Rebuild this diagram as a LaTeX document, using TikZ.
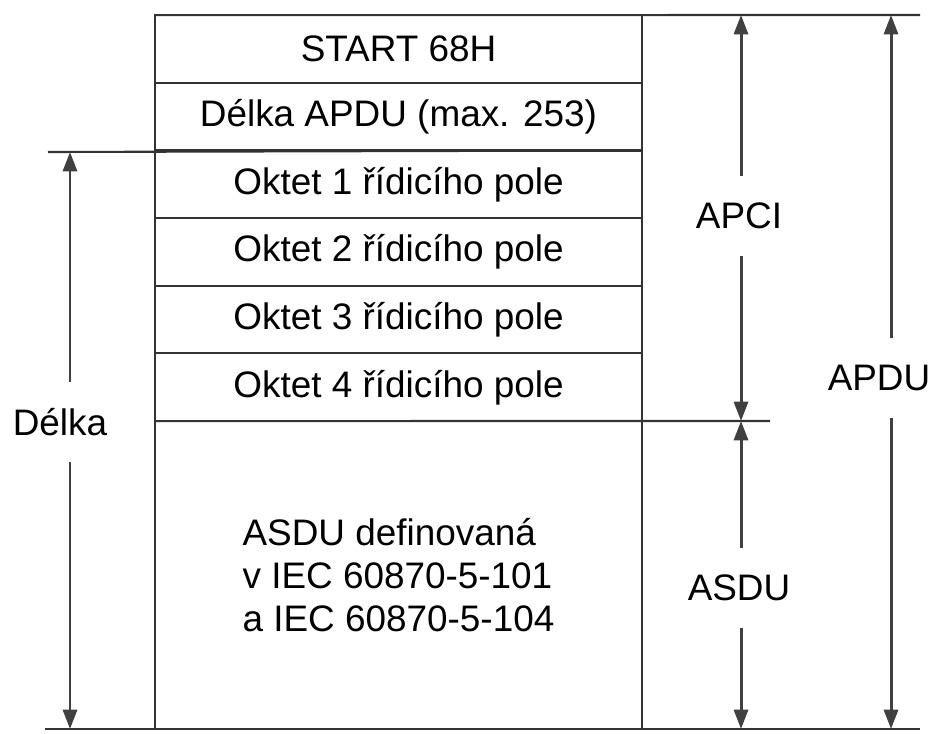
\documentclass[tikz,border=0pt]{standalone}
\usepackage{fontspec}
\setmainfont{Liberation Sans}
\usetikzlibrary{arrows.meta,positioning}

\begin{document}
\begin{tikzpicture}[x=0.02cm, y=-0.02cm,
  every node/.style={font=\fontsize{21}{24.4}\selectfont},
  field/.style={draw=black!80, line width=1.2pt, minimum width=9.74cm,
    minimum height=1.3533cm, inner sep=0pt, outer sep=0pt},
  rule/.style={black!80, line width=1.2pt},
  dim/.style={-{Triangle[length=11pt, width=8pt]}, black!75, line width=1.7pt},
  dimlabel/.style={minimum height=1.6cm, inner sep=0pt, outer sep=0pt}]

  \useasboundingbox (0,0) rectangle (935,733);

  % === APDU frame fields ===
  \node[field] (start) at (398.5,49) {START 68H};
  \node[field, below=0pt of start] (len) {Délka APDU (max. 253)};
  \node[field, below=0pt of len] (okt1) {Oktet 1 řídicího pole};
  \node[field, below=0pt of okt1] (okt2) {Oktet 2 řídicího pole};
  \node[field, below=0pt of okt2] (okt3) {Oktet 3 řídicího pole};
  \node[field, below=0pt of okt3] (okt4) {Oktet 4 řídicího pole};
  \node[field, below=0pt of okt4, minimum height=6.16cm, align=left] (asdu)
    {ASDU definovaná\\v IEC 60870-5-101\\a IEC 60870-5-104};

  % === Extension lines ===
  \coordinate (toptick) at (920,15);
  \coordinate (lentick) at (48,152);
  \coordinate (asdutick) at (770,421);
  \coordinate (botleft) at (45,729);
  \coordinate (botright) at (920,729);
  \draw[rule] (start.north west) -- (toptick);
  \draw[rule] (lentick) -- (okt1.north east);
  \draw[rule] (asdu.north west) -- (asdutick);
  \draw[rule] (botleft) -- (botright);

  % === Dimension arrows ===
  % Délka
  \coordinate (delkatop) at (70,152);
  \coordinate (delkabot) at (70,729);
  \node[dimlabel] (delka) at (60,422) {Délka};
  \draw[dim] (delka.north -| delkatop) -- (delkatop);
  \draw[dim] (delka.south -| delkabot) -- (delkabot);

  % APCI
  \coordinate (apcitop) at (741,15);
  \coordinate (apcibot) at (741,421);
  \node[dimlabel] (apci) at (739,216) {APCI};
  \draw[dim] (apci.north -| apcitop) -- (apcitop);
  \draw[dim] (apci.south -| apcibot) -- (apcibot);

  % ASDU
  \coordinate (asdutop) at (741,421);
  \coordinate (asdubot) at (741,729);
  \node[dimlabel] (asdulbl) at (739,588) {ASDU};
  \draw[dim] (asdulbl.north -| asdutop) -- (asdutop);
  \draw[dim] (asdulbl.south -| asdubot) -- (asdubot);

  % APDU
  \coordinate (apdutop) at (891,15);
  \coordinate (apdubot) at (891,729);
  \node[dimlabel] (apdu) at (879,378) {APDU};
  \draw[dim] (apdu.north -| apdutop) -- (apdutop);
  \draw[dim] (apdu.south -| apdubot) -- (apdubot);

\end{tikzpicture}
\end{document}
